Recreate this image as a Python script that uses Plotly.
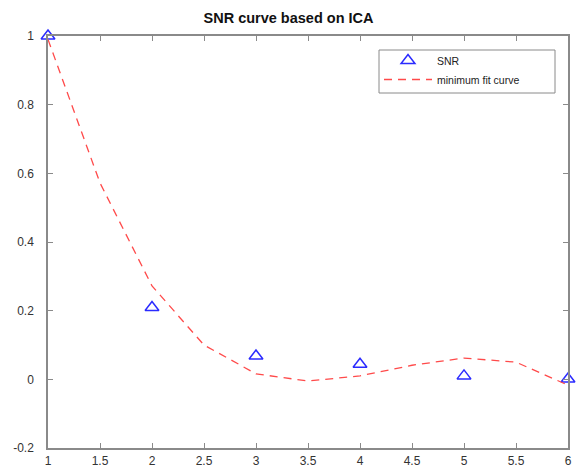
import plotly.graph_objects as go

snr_x = [1, 2, 3, 4, 5, 6]
snr_y = [1.0, 0.209, 0.068, 0.044, 0.010, 0.001]

fit_x = [1, 1.5, 2, 2.5, 3, 3.5, 4, 4.5, 5, 5.5, 6]
fit_y = [0.99, 0.572, 0.272, 0.10, 0.016, -0.005, 0.010, 0.041, 0.062, 0.050, -0.017]

x_ticks = [1, 1.5, 2, 2.5, 3, 3.5, 4, 4.5, 5, 5.5, 6]
x_labels = ["1", "1.5", "2", "2.5", "3", "3.5", "4", "4.5", "5", "5.5", "6"]
y_ticks = [-0.2, 0, 0.2, 0.4, 0.6, 0.8, 1]
y_labels = ["-0.2", "0", "0.2", "0.4", "0.6", "0.8", "1"]

FONT = "Arial, Liberation Sans, sans-serif"

# plot area in pixels: x 48..568, y 36..448
PL, PW, PT, PH = 48, 520, 36, 412


def px_x(p):
    return (p - PL) / PW


def px_y(p):
    return (PT + PH - p) / PH


fig = go.Figure()
fig.add_trace(go.Scatter(
    x=snr_x, y=snr_y, mode="markers", name="SNR",
    marker=dict(symbol="triangle-up-open", size=12, color="#2b2bff",
                line=dict(width=1.5, color="#2b2bff")),
    cliponaxis=False,
))
fig.add_trace(go.Scatter(
    x=fit_x, y=fit_y, mode="lines", name="minimum fit curve",
    line=dict(color="#ff4a4a", width=1.3, dash="8px,6px"),
))

axis_common = dict(
    showline=True, linecolor="#8a8a8a", linewidth=1.5, mirror="ticks",
    ticks="inside", ticklen=5, tickcolor="#8a8a8a", tickwidth=1,
    showgrid=False, zeroline=False, automargin=False,
    tickfont=dict(family=FONT, size=12, color="#333333"),
)

# legend frame
fig.add_shape(type="rect", xref="paper", yref="paper",
              x0=px_x(379), x1=px_x(555), y0=px_y(93), y1=px_y(50),
              line=dict(color="#8a8a8a", width=1), fillcolor="white", layer="above")

fig.update_layout(
    width=577, height=468,
    margin=dict(l=PL, r=577 - PL - PW, t=PT, b=468 - PT - PH),
    paper_bgcolor="white", plot_bgcolor="white",
    title=dict(text="<b>SNR curve based on ICA</b>", x=0.5, xref="container", xanchor="center",
               y=1 - 18 / 468, yref="container", yanchor="middle",
               font=dict(family=FONT, size=14.5, color="#111111")),
    xaxis=dict(range=[1, 6], tickvals=x_ticks, ticktext=x_labels, ticklabelstandoff=1, **axis_common),
    yaxis=dict(range=[-0.2, 1], tickvals=y_ticks, ticktext=y_labels, ticklabelstandoff=10, **axis_common),
    legend=dict(x=px_x(379), y=px_y(46), xanchor="left", yanchor="top",
                borderwidth=0, bgcolor="rgba(0,0,0,0)",
                font=dict(family=FONT, size=10.5, color="#222222"),
                itemwidth=48, tracegroupgap=0),
    showlegend=True,
)

fig.write_html("out.html")
